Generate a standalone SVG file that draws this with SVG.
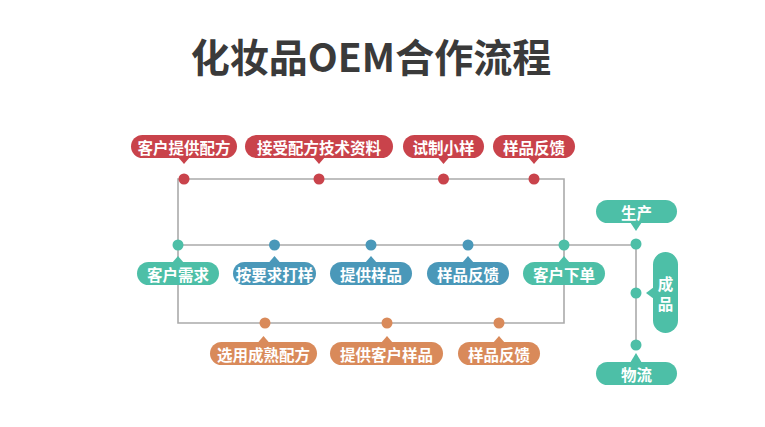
<svg xmlns="http://www.w3.org/2000/svg" width="765" height="427" viewBox="0 0 765 427">
<style>
.t{font-family:"Noto Sans CJK SC","Noto Sans",sans-serif;font-weight:bold;fill:#fff;font-size:15.5px;text-anchor:middle;dominant-baseline:central}
.title{font-family:"Noto Sans CJK SC","Noto Sans",sans-serif;font-weight:bold;fill:#3a3a3a;font-size:39px;text-anchor:middle}
.ln{stroke:#ababab;stroke-width:1.6;fill:none}
.red{fill:#c9434b}
.teal{fill:#4dbfa7}
.blue{fill:#4a98b9}
.org{fill:#d98a5a}
</style>
<rect width="765" height="427" fill="#fff"/>
<text class="title" x="371" y="72">化妆品OEM合作流程</text>
<g id="connectors">
<path class="ln" d="M178,179 H564 V323 H178 Z"/>
<path class="ln" d="M178,245 H636 V345"/>
</g>
<g id="n-red1" class="red"><rect x="131" y="135" width="106" height="23" rx="11.5"/><path d="M178,157 L184,164 L190,157Z"/><circle cx="184" cy="179" r="5.5"/><text class="t" x="184" y="146.5">客户提供配方</text></g>
<g id="n-red2" class="red"><rect x="245" y="135" width="148" height="23" rx="11.5"/><path d="M313,157 L319,164 L325,157Z"/><circle cx="319" cy="179" r="5.5"/><text class="t" x="319" y="146.5">接受配方技术资料</text></g>
<g id="n-red3" class="red"><rect x="403" y="135" width="81" height="23" rx="11.5"/><path d="M437.5,157 L443.5,164 L449.5,157Z"/><circle cx="443.5" cy="179" r="5.5"/><text class="t" x="443.5" y="146.5">试制小样</text></g>
<g id="n-red4" class="red"><rect x="493" y="135" width="82" height="23" rx="11.5"/><path d="M528,157 L534,164 L540,157Z"/><circle cx="534" cy="179" r="5.5"/><text class="t" x="534" y="146.5">样品反馈</text></g>
<g id="n-mid1" class="teal"><rect x="137" y="262" width="82" height="23" rx="11.5"/><path d="M172,263 L178,256 L184,263Z"/><circle cx="178" cy="245" r="5.5"/><text class="t" x="178" y="273.5">客户需求</text></g>
<g id="n-mid2" class="blue"><rect x="233" y="262" width="83" height="23" rx="11.5"/><path d="M268.5,263 L274.5,256 L280.5,263Z"/><circle cx="274.5" cy="245" r="5.5"/><text class="t" x="274.5" y="273.5">按要求打样</text></g>
<g id="n-mid3" class="blue"><rect x="330" y="262" width="82" height="23" rx="11.5"/><path d="M365,263 L371,256 L377,263Z"/><circle cx="371" cy="245" r="5.5"/><text class="t" x="371" y="273.5">提供样品</text></g>
<g id="n-mid4" class="blue"><rect x="427" y="262" width="82" height="23" rx="11.5"/><path d="M462,263 L468,256 L474,263Z"/><circle cx="468" cy="245" r="5.5"/><text class="t" x="468" y="273.5">样品反馈</text></g>
<g id="n-mid5" class="teal"><rect x="523" y="262" width="82" height="23" rx="11.5"/><path d="M558,263 L564,256 L570,263Z"/><circle cx="564" cy="245" r="5.5"/><text class="t" x="564" y="273.5">客户下单</text></g>
<g id="n-bot1" class="org"><rect x="210" y="342" width="107" height="23" rx="11.5"/><path d="M257.5,343 L263.5,336 L269.5,343Z"/><circle cx="265" cy="323" r="5.5"/><text class="t" x="263.5" y="353.5">选用成熟配方</text></g>
<g id="n-bot2" class="org"><rect x="330" y="342" width="113" height="23" rx="11.5"/><path d="M381,343 L387,336 L393,343Z"/><circle cx="387" cy="323" r="5.5"/><text class="t" x="386.5" y="353.5">提供客户样品</text></g>
<g id="n-bot3" class="org"><rect x="458" y="342" width="82" height="23" rx="11.5"/><path d="M493,343 L499,336 L505,343Z"/><circle cx="499" cy="323" r="5.5"/><text class="t" x="499" y="353.5">样品反馈</text></g>
<g id="n-prod" class="teal"><rect x="596" y="200" width="81" height="23" rx="11.5"/><path d="M630,222 L636,231 L642,222Z"/><circle cx="636" cy="244" r="5.5"/><text class="t" x="636.5" y="211.5">生产</text></g>
<g id="n-fin" class="teal"><rect x="653" y="252" width="25" height="81" rx="12.5"/><path d="M654,287 L646,293 L654,299Z"/><circle cx="636" cy="293" r="5.5"/><text class="t" x="665.5" y="283">成</text><text class="t" x="665.5" y="303">品</text></g>
<g id="n-log" class="teal"><rect x="596" y="362" width="81" height="23" rx="11.5"/><path d="M630,363 L636,353 L642,363Z"/><circle cx="636" cy="345" r="5.5"/><text class="t" x="636.5" y="373.5">物流</text></g>
</svg>
